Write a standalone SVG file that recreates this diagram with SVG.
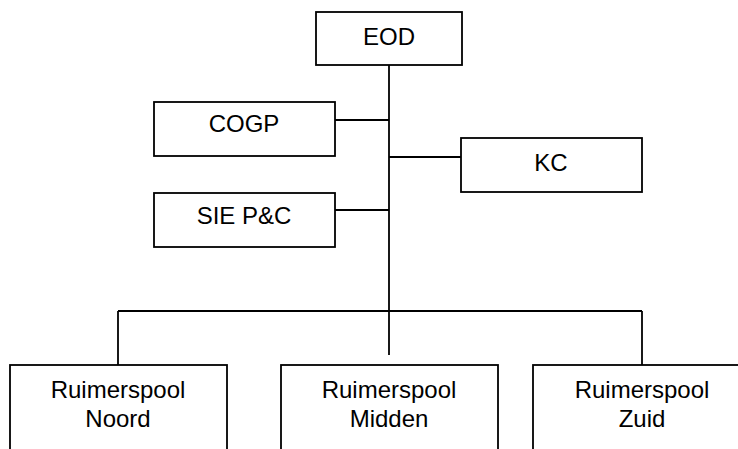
<svg xmlns="http://www.w3.org/2000/svg" width="738" height="449" viewBox="0 0 738 449">
<style>
rect{fill:#fff;stroke:#000;stroke-width:1.8}
line{stroke:#000;stroke-width:1.8}
text{font-family:"Liberation Sans",Arial,sans-serif;font-size:24px;fill:#000;text-anchor:middle}
</style>
<rect x="0" y="0" width="738" height="449" style="stroke:none"/>
<g id="connectors">
<line x1="389" y1="65" x2="389" y2="355"/>
<line x1="335" y1="120" x2="389" y2="120"/>
<line x1="389" y1="157" x2="461" y2="157"/>
<line x1="335" y1="210" x2="389" y2="210"/>
<line x1="118" y1="311" x2="642" y2="311"/>
<line x1="118" y1="311" x2="118" y2="365"/>
<line x1="642" y1="311" x2="642" y2="365"/>
</g>
<g id="eod"><rect x="316" y="12" width="146" height="53"/><text x="389" y="45">EOD</text></g>
<g id="cogp"><rect x="154" y="102" width="181" height="54"/><text x="244" y="132">COGP</text></g>
<g id="kc"><rect x="461" y="138" width="181" height="54"/><text x="551" y="171">KC</text></g>
<g id="siepc"><rect x="154" y="193" width="181" height="54"/><text x="244" y="224">SIE P&amp;C</text></g>
<g id="noord"><rect x="10" y="365" width="217" height="100"/><text x="118" y="398">Ruimerspool</text><text x="118" y="427">Noord</text></g>
<g id="midden"><rect x="281" y="365" width="217" height="100"/><text x="389" y="398">Ruimerspool</text><text x="389" y="427">Midden</text></g>
<g id="zuid"><rect x="533" y="365" width="218" height="100"/><text x="642" y="398">Ruimerspool</text><text x="642" y="427">Zuid</text></g>
</svg>
